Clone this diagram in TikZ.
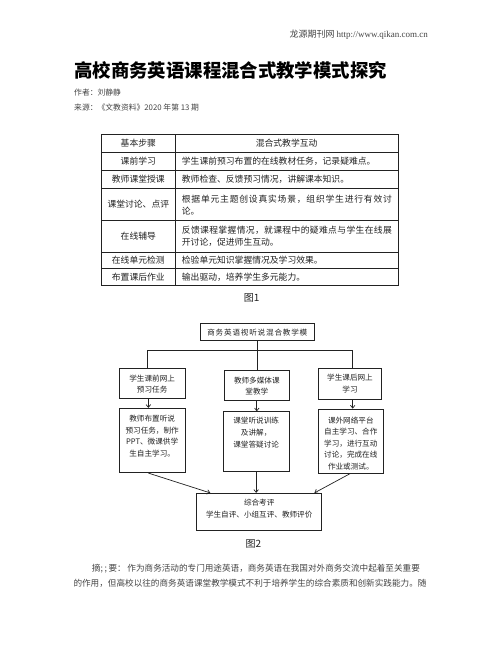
\documentclass[tikz,border=0pt]{standalone}
\usepackage{fontspec}
\setmainfont{Noto Sans CJK SC}
\newfontfamily\latinserif{Liberation Serif}
\usetikzlibrary{arrows.meta}
\ExplSyntaxOn
\NewDocumentCommand\spreadto{m m}{\hbox~to~#1{\tl_map_inline:nn {#2}{##1\hfil}\unskip}}
\ExplSyntaxOff
\definecolor{ink}{HTML}{222222}
\definecolor{soft}{HTML}{444444}
\tikzset{
  tline/.style={draw=ink, line width=0.8pt},
  cell/.style={inner sep=0pt, text=ink, font=\fontsize{8.8}{12.5}\selectfont},
  fbox/.style={draw=ink, line width=0.75pt, inner sep=0pt},
  ftxt/.style={inner sep=0pt, text=ink, align=center, font=\fontsize{7.6}{11.6}\selectfont},
  conn/.style={draw=ink, line width=0.7pt},
  arr/.style={conn, -{Straight Barb[length=2.8pt,width=4.5pt]}},
  meta/.style={inner sep=0pt, text=soft, anchor=west, font=\fontsize{7.8}{10}\selectfont}
}
\begin{document}
\begin{tikzpicture}[x=1pt,y=-1pt]
\useasboundingbox (0,0) rectangle (502,649);
\fill[white] (0,0) rectangle (502,649);

% header
\node[inner sep=0pt, anchor=east, text=soft, font=\fontsize{9}{11}\selectfont] (hdr) at (428,35)
  {龙源期刊网 {\latinserif http://www.qikan.com.cn}};
\node[inner sep=0pt, anchor=west, font=\fontsize{18.4}{20}\selectfont\bfseries] (title) at (74,70)
  {高校商务英语课程混合式教学模式探究};
\node[meta] (author) at (74,93) {作者：刘静静};
\node[meta] (source) at (74,108) {来源：《文教资料》2020 年第 13 期};

% table
\draw[tline, line width=1pt] (101.7,134) rectangle (398.3,285.5);
\draw[tline] (175,134) -- (175,285.5);
\foreach \yy in {152.5,170.7,188.5,220.5,252,268.5}
  \draw[tline] (101.7,\yy) -- (398.3,\yy);

\node[cell] (c1a) at (138.3,143.3) {基本步骤};
\node[cell] (c1b) at (286.6,143.3) {混合式教学互动};
\node[cell] (c2a) at (138.3,161.6) {课前学习};
\node[cell, anchor=west] (c2b) at (181.7,161.6) {学生课前预习布置的在线教材任务，记录疑难点。};
\node[cell] (c3a) at (138.3,179.6) {教师课堂授课};
\node[cell, anchor=west] (c3b) at (181.7,179.6) {教师检查、反馈预习情况，讲解课本知识。};
\node[cell] (c4a) at (138.3,204.5) {课堂讨论、点评};
\node[cell, anchor=west, align=left] (c4b) at (181.7,205.1)
  {\spreadto{210pt}{根据单元主题创设真实场景，组织学生进行有效讨}\\论。};
\node[cell] (c5a) at (138.3,236.2) {在线辅导};
\node[cell, anchor=west, align=left] (c5b) at (181.7,236)
  {\spreadto{210pt}{反馈课程掌握情况，就课程中的疑难点与学生在线展}\\开讨论，促进师生互动。};
\node[cell] (c6a) at (138.3,260.3) {在线单元检测};
\node[cell, anchor=west] (c6b) at (181.7,260.3) {检验单元知识掌握情况及学习效果。};
\node[cell] (c7a) at (138.3,277) {布置课后作业};
\node[cell, anchor=west] (c7b) at (181.7,277) {输出驱动，培养学生多元能力。};

\node[inner sep=0pt, text=ink, font=\fontsize{10}{12}\selectfont] (cap1) at (251.7,298.3) {图1};

% figure 2 boxes
\node[fbox, minimum width=113.3pt, minimum height=16.7pt] (t) at (257.35,331.65) {};
\node[ftxt] (tt) at (257.35,332.3) {\spreadto{100pt}{商务英语视听说混合教学模}};

\node[fbox, minimum width=65.7pt, minimum height=30pt] (l1) at (152.15,383.3) {};
\node[ftxt] (l1t) at (152.15,384.1) {学生课前网上\\预习任务};
\node[fbox, minimum width=65.7pt, minimum height=64.4pt] (l2) at (152.15,440.5) {};
\node[ftxt] (l2t) at (152.15,436.2) {教师布置听说\\预习任务，制作\\PPT、微课供学\\生自主学习。};

\node[fbox, minimum width=65pt, minimum height=30pt] (m1) at (256.8,385) {};
\node[ftxt] (m1t) at (256.8,386.2) {教师多媒体课\\堂教学};
\node[fbox, minimum width=65.7pt, minimum height=60pt] (m2) at (256.15,441.7) {};
\node[ftxt] (m2t) at (256.15,432.6) {课堂听说训练\\及讲解，\\课堂答疑讨论};

\node[fbox, minimum width=63.4pt, minimum height=31pt] (r1) at (350,383.8) {};
\node[ftxt] (r1t) at (350,383.8) {学生课后网上\\学习};
\node[fbox, minimum width=65pt, minimum height=64.3pt] (r2) at (350.8,441.15) {};
\node[ftxt] (r2t) at (350.8,443.3) {课外网络平台\\自主学习、合作\\学习，进行互动\\讨论，完成在线\\作业或测试。};

\node[fbox, minimum width=125pt, minimum height=36.7pt] (b) at (259.2,511.65) {};
\node[ftxt] (bt) at (259.2,508.7) {综合考评\\学生自评、小组互评、教师评价};

% connectors
\coordinate (j) at (257.35,350.7);
\draw[conn] (t.south) -- (t.south |- m1.north);
\draw[conn] ([xshift=-4.5pt]l1.north) |- (j) -| ([xshift=2.7pt]r1.north);
\draw[arr] ([xshift=-3.8pt]l1.south) -- ([xshift=-3.8pt]l1.south |- l2.north);
\draw[arr] (m1.south) -- (m1.south |- m2.north);
\draw[arr] ([xshift=2.7pt]r1.south) -- ([xshift=2.7pt]r1.south |- r2.north);
\draw[arr] ([xshift=-3.8pt]l2.south) -- ([xshift=14pt]b.north west);
\draw[arr] (m2.south) -- (m2.south |- b.north);
\draw[arr] ([xshift=-0.8pt]r2.south) -- ([xshift=-7.7pt]b.north east);

\node[inner sep=0pt, text=ink, font=\fontsize{10}{12}\selectfont] (cap2) at (253.3,544) {图2};

% body text
\node[inner sep=0pt, anchor=west, text=soft, font=\fontsize{8.6}{11}\selectfont] (p1) at (91.7,568.3)
  {\spreadto{328pt}{摘;{\ };{\ }要：{\ }作为商务活动的专门用途英语，商务英语在我国对外商务交流中起着至关重要}};
\node[inner sep=0pt, anchor=west, text=soft, font=\fontsize{8.6}{11}\selectfont] (p2) at (73.3,583.3)
  {\spreadto{353pt}{的作用，但高校以往的商务英语课堂教学模式不利于培养学生的综合素质和创新实践能力。随}};
\end{tikzpicture}
\end{document}
